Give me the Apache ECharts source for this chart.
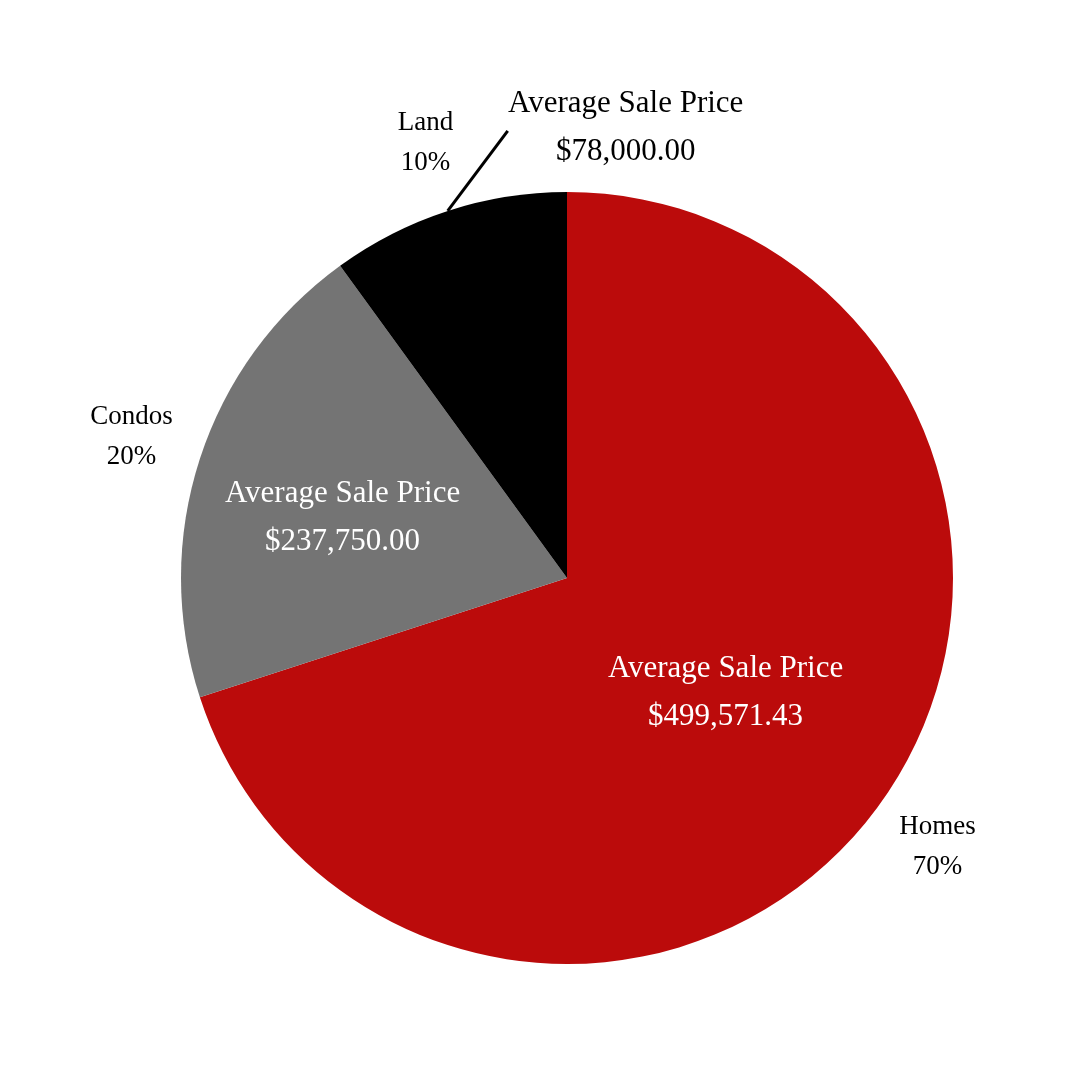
<!DOCTYPE html>
<html lang="en">
<head>
  <meta charset="UTF-8">
  <title>Average Sale Price</title>
  <script src="https://cdn.jsdelivr.net/npm/echarts@6/dist/echarts.min.js"></script>
  <style>
    html, body { margin: 0; padding: 0; background: #fff; }
    #chart { width: 1080px; height: 1080px; }
  </style>
</head>
<body>
  <div id="chart"></div>
  <script>
    const categories = ['Homes', 'Condos', 'Land'];
    const shares = [70, 20, 10];
    const avgPrices = ['$499,571.43', '$237,750.00', '$78,000.00'];
    const colors = ['#BB0B0B', '#747474', '#000000'];

    const font = '"Liberation Serif", "DejaVu Serif", serif';
    const chart = echarts.init(document.getElementById('chart'));

    const mainData = categories.map((name, i) => ({
      name: name,
      value: shares[i],
      itemStyle: { color: colors[i] },
      label: i === 2
        ? { position: 'outside', color: '#000', align: 'center' }
        : { position: 'inside', color: '#fff', offset: i === 1 ? [-38, 0] : [0, 0] },
      labelLine: { show: i === 2, length: 50, length2: 0, lineStyle: { color: '#000', width: 3 } }
    }));

    chart.setOption({
      animation: false,
      series: [
        {
          type: 'pie',
          center: [567, 578],
          radius: [0, 386],
          startAngle: 90,
          clockwise: true,
          silent: true,
          data: mainData,
          label: {
            fontFamily: font,
            fontSize: 31,
            lineHeight: 48,
            formatter: p => 'Average Sale Price\n' + avgPrices[p.dataIndex]
          },
          labelLayout: function (params) {
            if (params.dataIndex !== 2) return {};
            const pts = params.labelLinePoints;
            const start = pts[0];
            const end = [start[0] + 60, start[1] - 80];
            return {
              x: end[0] + 118,
              y: end[1] - 3,
              align: 'center',
              verticalAlign: 'middle',
              labelLinePoints: [start, end, end]
            };
          }
        },
        {
          type: 'pie',
          center: [567, 578],
          radius: [0, 910],
          startAngle: 90,
          clockwise: true,
          silent: true,
          itemStyle: { color: 'rgba(0,0,0,0)' },
          data: categories.map((name, i) => ({ name: name, value: shares[i] })),
          label: {
            position: 'inside',
            color: '#000',
            fontFamily: font,
            fontSize: 27,
            lineHeight: 40,
            formatter: p => p.name + '\n' + p.value + '%'
          },
          labelLine: { show: false },
          z: 1
        }
      ]
    });
  </script>
</body>
</html>
